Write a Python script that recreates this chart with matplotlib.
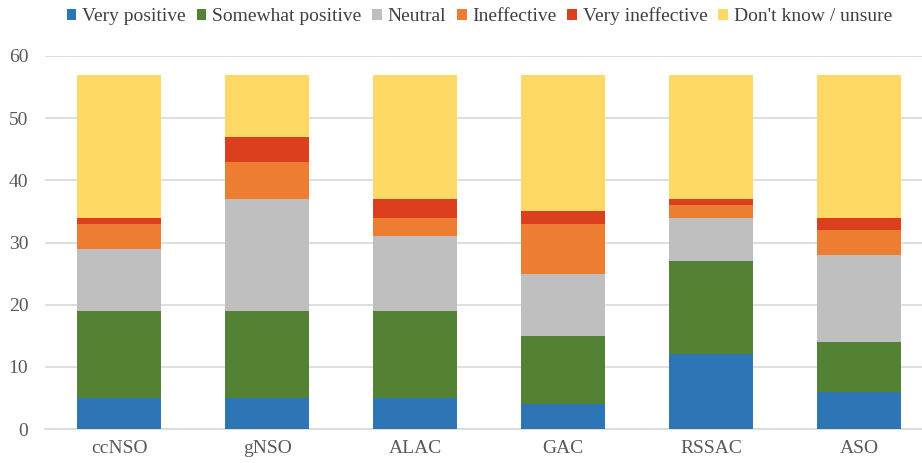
import matplotlib
matplotlib.use("Agg")
import matplotlib.pyplot as plt
import numpy as np

categories = ["ccNSO", "gNSO", "ALAC", "GAC", "RSSAC", "ASO"]
series_names = ["Very positive", "Somewhat positive", "Neutral", "Ineffective",
                "Very ineffective", "Don't know / unsure"]
very_positive = [5, 5, 5, 4, 12, 6]
somewhat_positive = [14, 14, 14, 11, 15, 8]
neutral = [10, 18, 12, 10, 7, 14]
ineffective = [4, 6, 3, 8, 2, 4]
very_ineffective = [1, 4, 3, 2, 1, 2]
dont_know = [23, 10, 20, 22, 20, 23]
colors = ["#2E75B6", "#548235", "#BFBFBF", "#ED7D31", "#DC3F1E", "#FFD966"]

series = [very_positive, somewhat_positive, neutral, ineffective, very_ineffective, dont_know]

plt.rcParams['font.family'] = ['Liberation Serif', 'DejaVu Serif']
fig = plt.figure(figsize=(9.22, 4.63), dpi=100)
ax = fig.add_axes([45/922, 34/463, 888/922, 373/463])

x = np.arange(len(categories))
bottom = np.zeros(len(categories))
handles = []
for name, vals, c in zip(series_names, series, colors):
    h = ax.bar(x, vals, width=0.57, bottom=bottom, color=c, label=name, zorder=3)
    handles.append(h)
    bottom += np.array(vals)

ax.set_xlim(-0.5, len(categories) - 0.5)
ax.set_ylim(0, 60)
ax.set_yticks(range(0, 61, 10))
ax.yaxis.grid(True, color="#D9D9D9", linewidth=1.2, zorder=0)
ax.set_xticks(x)
ax.set_xticklabels(categories)
for s in ["top", "right", "left"]:
    ax.spines[s].set_visible(False)
ax.spines["bottom"].set_color("#D9D9D9")
ax.spines["bottom"].set_linewidth(1.2)
ax.tick_params(axis="both", length=0, labelsize=14, colors="#595959")
ax.tick_params(axis="y", pad=12)
ax.tick_params(axis="x", pad=8)

fig.legend(handles=handles, labels=series_names, loc="upper center",
           bbox_to_anchor=(0.52, 1.022), ncol=6, frameon=False, fontsize=14,
           handlelength=0.5, handleheight=0.5, handletextpad=0.3,
           columnspacing=0.55, labelcolor="#404040")

fig.savefig("out.png", dpi=100)
